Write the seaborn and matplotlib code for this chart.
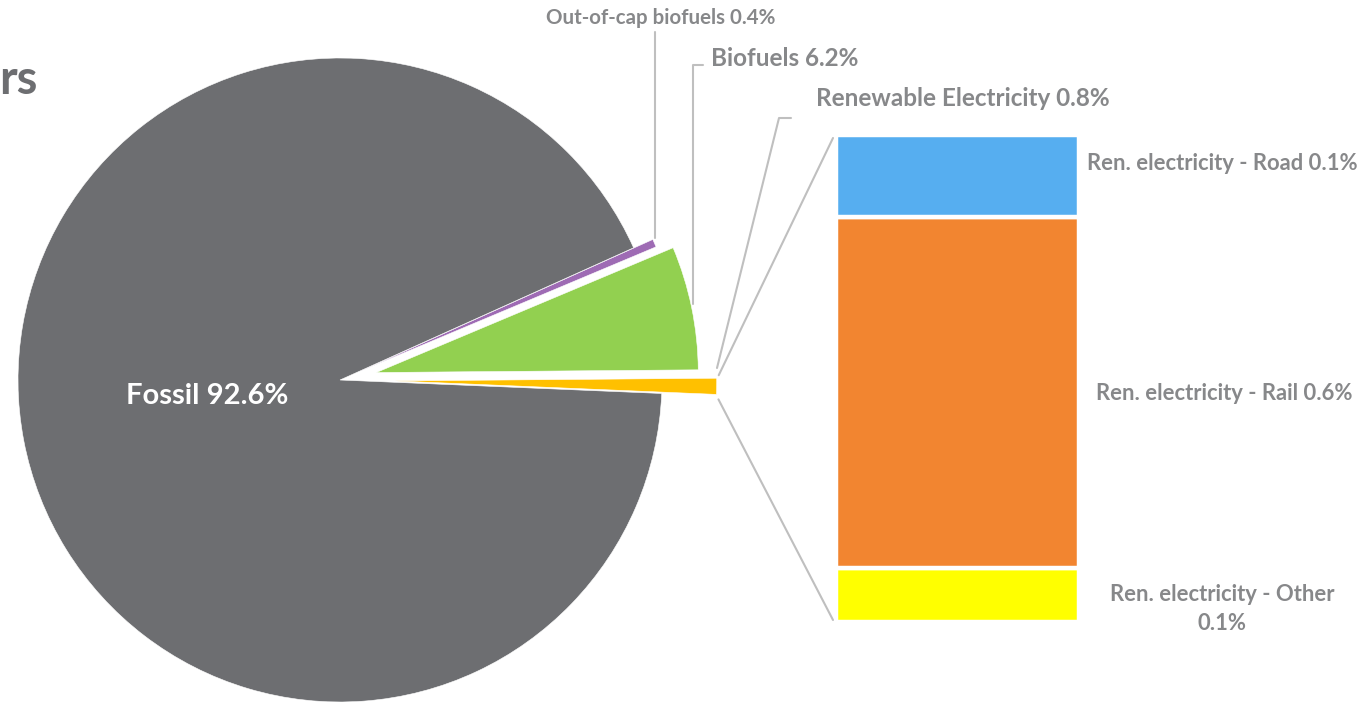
import seaborn as sns
import matplotlib.pyplot as plt
import numpy as np

# pie data (share of energy, %)
pie_labels = ['Renewable Electricity', 'Biofuels', 'Out-of-cap biofuels', 'Fossil']
pie_values = [0.8, 6.2, 0.4, 92.6]
pie_colors = ['#FFC000', '#92D050', '#9E6BB4', '#6D6E71']
pie_explode = [0.17, 0.115, 0.065, 0]

# breakdown of renewable electricity (%)
bar_labels = ['Ren. electricity - Other', 'Ren. electricity - Rail', 'Ren. electricity - Road']
bar_values = [0.089, 0.576, 0.135]
bar_colors = ['#FFFF00', '#F28530', '#56AEF0']

sns.set_theme(style="white")
plt.rcParams['font.family'] = ['Lato', 'DejaVu Sans']

W, H = 1363, 702
fig = plt.figure(figsize=(W / 100, H / 100), dpi=100)

# pie axes: unit radius = 322 px, centre at (340, 380) px
R, cx, cy = 322, 340, 380
ax = fig.add_axes([0, 0, 1, 1])
wedges, _ = ax.pie(pie_values, colors=pie_colors, explode=pie_explode,
                   startangle=-2.4, counterclock=True, radius=1,
                   wedgeprops=dict(edgecolor='white', linewidth=0.4))
ax.set_xlim(-cx / R, (W - cx) / R)
ax.set_ylim(-(H - cy) / R, cy / R)
ax.axis('off')

# stacked bar of the renewable electricity slice
bx0, bx1, by0, by1 = 836, 1079, 135, 622
bax = fig.add_axes([bx0 / W, 1 - by1 / H, (bx1 - bx0) / W, (by1 - by0) / H])
bottom = 0
for lab, val, col in zip(bar_labels, bar_values, bar_colors):
    sns.barplot(x=['Ren'], y=[val], bottom=bottom, color=col, width=1,
                edgecolor='white', linewidth=3.2, saturation=1, ax=bax)
    bottom += val
bax.set_xlim(-0.5, 0.5)
bax.set_ylim(0, sum(bar_values))
bax.axis('off')

# overlay for labels and leader lines, in pixel coordinates
ann = fig.add_axes([0, 0, 1, 1], zorder=5)
ann.set_xlim(0, W)
ann.set_ylim(H, 0)
ann.axis('off')

grey = '#87888A'
line_c = '#BFBFBF'

def px(x, y):
    return cx + R * x, cy - R * y

# connector lines from renewable slice to bar
w = wedges[0]
wx, wy = w.center
t1, t2 = np.deg2rad(w.theta1), np.deg2rad(w.theta2)
p_top = px(wx + np.cos(t2), wy + np.sin(t2))
p_bot = px(wx + np.cos(t1), wy + np.sin(t1))
ann.plot([p_top[0] + 2, 833], [p_top[1] - 3, 138], color=line_c, lw=1.5)
ann.plot([p_bot[0] + 2, 833], [p_bot[1] + 5, 620], color=line_c, lw=1.5)

# leader lines for the labels
ann.plot([655, 655], [32, 238], color=line_c, lw=1.5)
ann.plot([703, 693, 693], [65, 65, 304], color=line_c, lw=1.5)
ann.plot([791, 779, 717], [118, 118, 368], color=line_c, lw=1.5)

ann.text(661, 18, 'Out-of-cap biofuels %.1f%%' % pie_values[2], ha='center', va='center',
         fontsize=14.8, fontweight='bold', color=grey)
ann.text(785, 58, 'Biofuels %.1f%%' % pie_values[1], ha='center', va='center',
         fontsize=17.5, fontweight='bold', color=grey)
ann.text(963, 98, 'Renewable Electricity %.1f%%' % pie_values[0], ha='center', va='center',
         fontsize=17.5, fontweight='bold', color=grey)
ann.text(207, 396, 'Fossil %.1f%%' % pie_values[3], ha='center', va='center',
         fontsize=21, fontweight='bold', color='white')

fb = 15.8
ann.text(1222, 163, '%s %.1f%%' % (bar_labels[2], bar_values[2]), ha='center', va='center',
         fontsize=fb, fontweight='bold', color=grey)
ann.text(1224, 393, '%s %.1f%%' % (bar_labels[1], bar_values[1]), ha='center', va='center',
         fontsize=fb, fontweight='bold', color=grey)
ann.text(1222, 609, '%s\n%.1f%%' % (bar_labels[0], bar_values[0]), ha='center', va='center',
         fontsize=fb, fontweight='bold', color=grey, linespacing=1.5)

# clipped title remnant
ann.text(38, 80, 'rs', ha='right', va='center', fontsize=34, fontweight='bold', color='#6D6E71')

fig.savefig('out.png', dpi=100)
